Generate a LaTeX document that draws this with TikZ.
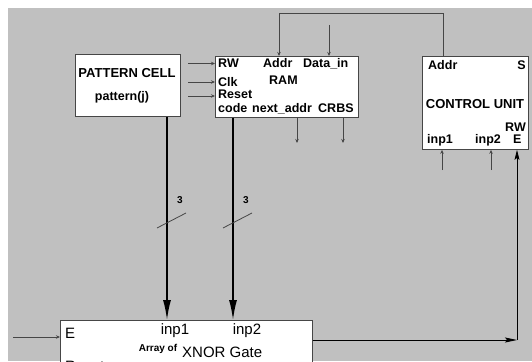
\documentclass[tikz,border=0pt]{standalone}
\usepackage{fontspec}
\setmainfont{Liberation Sans}
\usetikzlibrary{arrows.meta,calc}
\definecolor{bggray}{RGB}{192,192,192}
\definecolor{edge}{RGB}{70,70,70}
\begin{document}
\begin{tikzpicture}[x=1pt,y=-1pt,
  box/.style={draw=edge, fill=white, line width=0.9pt, anchor=north west, inner sep=0pt},
  lbl/.style={font=\bfseries\fontsize{12.5}{13}\selectfont, inner sep=0pt, text=black},
  big/.style={font=\fontsize{15}{16}\selectfont, inner sep=0pt, text=black},
  thinln/.style={draw=edge, line width=0.8pt},
  sarr/.style={thinln, -{Stealth[length=4pt,width=3.5pt]}},
  marr/.style={draw=black, line width=0.9pt, -{Stealth[length=12pt,width=5pt,inset=2pt]}},
  barr/.style={draw=black, line width=1.6pt, -{Latex[length=20pt,width=8pt]}},
]
\useasboundingbox (0,0) rectangle (532,361);
\clip (0,0) rectangle (532,361);
\fill[white] (0,0) rectangle (532,361);
\fill[bggray] (8,8) rectangle (532,361);

% boxes
\node[box, minimum width=105pt, minimum height=62pt] (pc) at (75,54) {};
\node[box, minimum width=143pt, minimum height=61pt] (ram) at (215,56) {};
\node[box, minimum width=106pt, minimum height=93pt] (cu) at (422,56) {};
\node[box, minimum width=252pt, minimum height=70pt] (xn) at (60,320) {};

% pattern cell text
\node[lbl, font=\bfseries\fontsize{13}{14}\selectfont] (pct) at (127,73) {PATTERN CELL};
\node[lbl] (pj) at (122,97) {pattern(j)};

% RAM text
\node[lbl, anchor=west] (rRW) at (218,63.5) {RW};
\node[lbl, anchor=west] (rAddr) at (263,63.5) {Addr};
\node[lbl, anchor=west] (rData) at (303,63.5) {Data\_in};
\node[lbl, anchor=west] (rClk) at (218,82) {Clk};
\node[lbl, anchor=west] (rRAM) at (269,80.5) {RAM};
\node[lbl, anchor=west] (rReset) at (218,94.5) {Reset};
\node[lbl, anchor=west] (rcode) at (218,108.5) {code};
\node[lbl, anchor=west] (rnext) at (252,108.5) {next\_addr};
\node[lbl, anchor=west] (rCRBS) at (318,108.5) {CRBS};

% control unit text
\node[lbl, anchor=west] (cAddr) at (428,65) {Addr};
\node[lbl, anchor=east] (cS) at (526,65) {S};
\node[lbl, font=\bfseries\fontsize{13}{14}\selectfont] (cCU) at (475,104) {CONTROL UNIT};
\node[lbl, anchor=east] (cRW) at (526,127.5) {RW};
\node[lbl, anchor=west] (cinp1) at (427,140) {inp1};
\node[lbl, anchor=west] (cinp2) at (475,140) {inp2};
\node[lbl, anchor=west] (cE) at (513,139.5) {E};

% XNOR text
\node[big, anchor=west] (xE) at (65,333) {E};
\node[big] (xinp1) at (175,331) {inp1};
\node[big] (xinp2) at (247,331) {inp2};
\node[lbl, font=\bfseries\fontsize{10}{11}\selectfont] (xarr) at (158,349) {Array of};
\node[big, anchor=west] (xgate) at (182,352) {XNOR Gate};
\node[big, anchor=west] (xreset) at (65,366) {Reset};

% coordinates
\coordinate (c1) at (167,0);
\coordinate (c2) at (233,0);
\coordinate (topy) at (0,13);
\coordinate (la) at (443,0);
\coordinate (lr) at (279,0);
\coordinate (inRW) at (188,63.5);
\coordinate (inClk) at (188,82);
\coordinate (inReset) at (188,96);
\coordinate (din) at (329,25);
\coordinate (oNext) at (297,143);
\coordinate (oCRBS) at (343,143);
\coordinate (cin1) at (442,170);
\coordinate (cin2) at (491,170);
\coordinate (xo) at (517,340);
\coordinate (ein) at (13,337);

% thick buses
\draw[barr] (c1 |- pc.south) -- (c1 |- xn.north);
\draw[barr] (c2 |- ram.south) -- (c2 |- xn.north);
\draw[thinln] (157,228) -- (186,213);
\draw[thinln] (223,228) -- (252,213);
\node[lbl, font=\bfseries\fontsize{10}{11}\selectfont] (n3a) at (180,200) {3};
\node[lbl, font=\bfseries\fontsize{10}{11}\selectfont] (n3b) at (246,200) {3};

% RAM inputs
\draw[sarr] (inRW) -- (inRW -| ram.west);
\draw[sarr] (inClk) -- (inClk -| ram.west);
\draw[sarr] (inReset) -- (inReset -| ram.west);
\draw[sarr] (din) -- (din |- ram.north);
\draw[sarr] (la |- cu.north) -- (la |- topy) -- (lr |- topy) -- (lr |- ram.north);

% RAM outputs
\draw[sarr] (oNext |- ram.south) -- (oNext);
\draw[sarr] (oCRBS |- ram.south) -- (oCRBS);

% control unit inputs
\draw[sarr] (cin1) -- (cin1 |- cu.south);
\draw[sarr] (cin2) -- (cin2 |- cu.south);

% XNOR input/output
\draw[sarr] (ein) -- (ein -| xn.west);
\draw[marr] (xo -| xn.east) -- (xo);
\draw[thinln, draw=black, -{Stealth[length=10pt,width=5pt,inset=2pt]}] (xo) -- (xo |- cu.south);
\end{tikzpicture}
\end{document}
